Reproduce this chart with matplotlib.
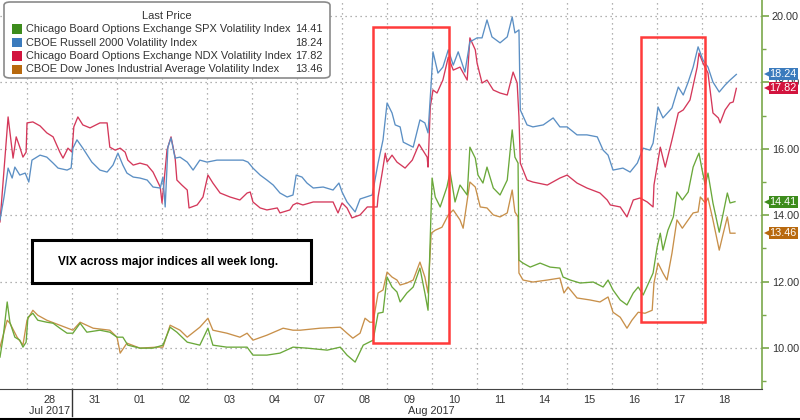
import matplotlib
matplotlib.use("Agg")
import matplotlib.pyplot as plt
import matplotlib.transforms as mtransforms
from matplotlib.patches import FancyBboxPatch, Rectangle
from matplotlib.ticker import MultipleLocator, FixedLocator, NullFormatter, FixedFormatter

plt.rcParams['font.family'] = ['Liberation Sans', 'DejaVu Sans']

# x = trading-day position (0 = start of Jul 28 session), y = index level
spx_t = [-0.60, -0.53, -0.44, -0.38, -0.27, -0.16, -0.09, -0.02, 0.02, 0.13, 0.24, 0.44, 0.58, 0.73, 0.89,
         1.02, 1.18, 1.33, 1.62, 1.84, 2.00, 2.13, 2.24, 2.51, 2.80, 3.02, 3.18, 3.33, 3.56, 3.84,
         4.02, 4.13, 4.44, 4.89, 5.02, 5.33, 5.62, 5.91, 6.22, 6.67, 6.96, 7.11, 7.29, 7.47, 7.69,
         7.80, 7.91, 8.00, 8.11, 8.22, 8.29, 8.44, 8.58, 8.73, 8.84, 8.91, 9.00, 9.07, 9.18, 9.33,
         9.40, 9.51, 9.62, 9.78, 9.84, 9.96, 10.02, 10.13, 10.22, 10.36, 10.51, 10.67, 10.78, 10.84, 10.91,
         10.93, 11.02, 11.18, 11.40, 11.62, 11.84, 11.91, 12.07, 12.29, 12.58, 12.80, 12.91, 13.02, 13.18, 13.33,
         13.47, 13.58, 13.69, 13.84, 13.91, 14.00, 14.07, 14.13, 14.24, 14.36, 14.44, 14.56, 14.69, 14.80, 14.89,
         14.93, 15.00, 15.07, 15.13, 15.24, 15.38, 15.47, 15.56, 15.62, 15.73]
spx_v = [9.73, 10.33, 11.39, 10.78, 10.33, 10.24, 10.03, 10.18, 10.93, 11.05, 10.84, 10.78, 10.75, 10.60, 10.45,
         10.45, 10.75, 10.48, 10.54, 10.48, 10.33, 10.33, 10.09, 10.00, 10.00, 10.09, 10.63, 10.48, 10.18, 10.09,
         10.60, 10.09, 10.03, 10.03, 9.79, 9.79, 9.85, 10.03, 10.00, 9.94, 10.03, 9.79, 9.58, 10.09, 10.24,
         11.05, 11.08, 12.14, 11.84, 11.69, 11.39, 11.66, 11.84, 12.41, 11.66, 11.14, 15.12, 14.55, 14.25, 14.85,
         15.30, 14.40, 14.91, 14.61, 16.05, 15.72, 15.21, 14.97, 15.45, 14.82, 14.61, 15.06, 16.57, 15.75, 15.57,
         12.65, 12.56, 12.44, 12.56, 12.44, 12.41, 12.14, 12.05, 11.96, 11.99, 11.84, 12.05, 11.75, 11.45, 11.30,
         11.66, 11.84, 11.60, 12.05, 12.26, 13.04, 13.46, 12.95, 13.55, 13.95, 14.70, 14.46, 14.70, 15.45, 15.75,
         15.87, 15.36, 14.91, 15.27, 14.37, 13.49, 14.07, 14.67, 14.37, 14.41]

rut_t = [-0.60, -0.51, -0.42, -0.33, -0.27, -0.16, -0.04, 0.04, 0.11, 0.29, 0.44, 0.58, 0.69, 0.89, 0.98,
         1.02, 1.11, 1.24, 1.44, 1.62, 1.78, 1.91, 2.02, 2.13, 2.22, 2.36, 2.51, 2.67, 2.80, 2.96,
         3.02, 3.07, 3.13, 3.20, 3.29, 3.40, 3.56, 3.69, 3.84, 4.00, 4.22, 4.58, 4.80, 4.91, 5.02,
         5.18, 5.33, 5.47, 5.62, 5.78, 5.91, 5.98, 6.11, 6.22, 6.36, 6.58, 6.80, 6.93, 7.00, 7.11,
         7.29, 7.40, 7.67, 7.80, 7.91, 8.00, 8.11, 8.18, 8.29, 8.36, 8.58, 8.73, 8.84, 8.91, 8.98,
         9.02, 9.13, 9.24, 9.36, 9.47, 9.58, 9.73, 9.84, 10.00, 10.11, 10.22, 10.33, 10.51, 10.67, 10.78,
         10.84, 10.93, 10.96, 11.11, 11.24, 11.47, 11.69, 11.84, 12.00, 12.22, 12.44, 12.67, 12.80, 12.91, 13.02,
         13.24, 13.40, 13.56, 13.69, 13.84, 13.91, 14.02, 14.13, 14.33, 14.47, 14.58, 14.69, 14.80, 14.91, 15.02,
         15.13, 15.24, 15.38, 15.51, 15.62, 15.76]
rut_v = [13.86, 14.55, 15.42, 15.12, 15.45, 15.21, 15.27, 15.00, 15.66, 15.81, 15.75, 15.57, 15.42, 15.36, 15.42,
         16.02, 16.27, 16.02, 15.60, 15.36, 15.30, 15.51, 15.87, 15.51, 15.27, 15.15, 15.12, 15.06, 14.85, 14.82,
         15.15, 14.25, 16.05, 16.33, 15.72, 15.75, 15.60, 15.36, 15.66, 15.60, 15.66, 15.66, 15.66, 15.60, 15.42,
         15.21, 15.06, 14.91, 14.67, 14.55, 14.61, 15.21, 15.15, 14.97, 14.82, 14.85, 14.76, 14.97, 14.70, 14.40,
         14.10, 14.49, 14.61, 15.57, 16.27, 17.38, 17.08, 16.72, 16.66, 16.20, 16.05, 16.87, 16.78, 16.48, 17.98,
         18.92, 18.28, 18.46, 18.98, 18.52, 18.92, 18.31, 19.22, 19.34, 19.34, 19.88, 19.37, 19.19, 19.37, 19.97,
         19.49, 19.58, 17.17, 16.72, 16.66, 16.72, 16.93, 16.66, 16.66, 16.42, 16.42, 16.36, 15.96, 15.81, 15.36,
         15.42, 15.30, 15.57, 16.02, 15.96, 16.17, 17.26, 16.93, 17.23, 17.86, 17.62, 18.01, 18.46, 19.07, 18.67,
         18.46, 18.01, 17.71, 17.92, 18.07, 18.24]

ndx_t = [-0.60, -0.42, -0.31, -0.24, -0.16, -0.09, -0.02, 0.00, 0.13, 0.29, 0.44, 0.58, 0.73, 0.80, 0.91,
         1.00, 1.04, 1.13, 1.24, 1.40, 1.62, 1.78, 1.84, 1.96, 2.07, 2.18, 2.24, 2.36, 2.51, 2.67,
         2.80, 2.96, 3.00, 3.11, 3.20, 3.29, 3.33, 3.44, 3.56, 3.60, 3.78, 3.91, 4.02, 4.13, 4.29,
         4.51, 4.73, 4.89, 4.96, 5.02, 5.18, 5.33, 5.56, 5.62, 5.84, 5.91, 6.00, 6.13, 6.36, 6.80,
         6.91, 7.00, 7.11, 7.22, 7.40, 7.56, 7.78, 7.80, 7.89, 7.96, 8.00, 8.11, 8.22, 8.40, 8.56,
         8.71, 8.89, 8.91, 8.96, 9.02, 9.11, 9.24, 9.36, 9.47, 9.62, 9.78, 9.84, 9.96, 10.00, 10.11,
         10.22, 10.36, 10.51, 10.67, 10.80, 10.89, 10.93, 10.96, 11.11, 11.24, 11.56, 11.84, 12.00, 12.22, 12.44,
         12.73, 12.89, 12.96, 13.18, 13.33, 13.47, 13.62, 13.78, 13.91, 13.93, 14.07, 14.18, 14.33, 14.47, 14.58,
         14.73, 14.89, 14.93, 15.02, 15.13, 15.24, 15.36, 15.40, 15.51, 15.62, 15.69, 15.76]
ndx_v = [13.80, 16.96, 15.72, 16.36, 16.05, 15.75, 15.90, 16.78, 16.81, 16.69, 16.48, 16.36, 15.90, 15.72, 16.02,
         15.90, 16.66, 16.96, 16.72, 16.63, 16.78, 16.78, 16.05, 15.96, 16.02, 15.90, 15.66, 15.51, 15.57, 15.51,
         15.30, 14.85, 14.37, 15.96, 16.36, 15.75, 15.06, 14.91, 14.76, 14.22, 14.31, 14.55, 15.21, 14.97, 14.67,
         14.55, 14.46, 14.67, 14.70, 14.40, 14.22, 14.16, 14.22, 14.07, 14.16, 14.31, 14.37, 14.31, 14.40, 14.40,
         14.07, 14.37, 14.22, 13.92, 14.01, 14.25, 14.25, 14.55, 15.27, 15.87, 15.60, 15.81, 15.60, 15.42, 15.66,
         16.14, 15.75, 15.45, 17.26, 17.77, 17.68, 18.07, 18.76, 18.37, 18.46, 18.07, 19.34, 18.98, 18.58, 17.98,
         18.07, 17.77, 17.68, 17.62, 18.31, 17.98, 16.96, 15.57, 15.06, 15.00, 14.91, 15.12, 15.21, 14.97, 14.82,
         14.67, 14.46, 14.31, 14.25, 13.95, 14.46, 14.52, 14.40, 14.25, 14.91, 16.05, 15.45, 16.27, 17.08, 17.17,
         17.47, 18.46, 18.88, 18.58, 18.28, 17.08, 16.93, 16.78, 17.17, 17.38, 17.41, 17.82]

dji_t = [-0.60, -0.44, -0.38, -0.22, -0.09, 0.00, 0.13, 0.24, 0.44, 0.73, 1.02, 1.18, 1.47, 1.84, 2.00,
         2.07, 2.22, 2.51, 2.89, 3.02, 3.18, 3.40, 3.56, 3.84, 4.02, 4.13, 4.44, 4.73, 4.89, 5.02,
         5.33, 5.69, 5.91, 6.07, 6.51, 6.96, 7.11, 7.24, 7.40, 7.51, 7.62, 7.69, 7.80, 7.91, 8.00,
         8.11, 8.22, 8.29, 8.44, 8.58, 8.73, 8.84, 8.91, 8.98, 9.07, 9.22, 9.36, 9.47, 9.62, 9.69,
         9.84, 9.96, 10.07, 10.22, 10.36, 10.51, 10.67, 10.78, 10.84, 10.91, 10.93, 11.02, 11.24, 11.56, 11.84,
         11.93, 12.02, 12.22, 12.51, 12.73, 12.91, 13.02, 13.18, 13.33, 13.44, 13.58, 13.73, 13.89, 13.93, 14.02,
         14.13, 14.22, 14.33, 14.44, 14.56, 14.69, 14.80, 14.91, 14.96, 15.07, 15.13, 15.24, 15.38, 15.47, 15.56,
         15.62, 15.73]
dji_v = [10.03, 10.84, 10.75, 10.33, 10.09, 10.84, 11.14, 10.99, 10.84, 10.69, 10.54, 10.78, 10.60, 10.54, 10.33,
         9.85, 10.15, 10.00, 10.03, 10.03, 10.69, 10.54, 10.33, 10.63, 10.90, 10.54, 10.45, 10.33, 10.45, 10.24,
         10.39, 10.60, 10.54, 10.54, 10.60, 10.63, 10.45, 10.30, 10.45, 10.90, 10.78, 10.78, 11.66, 11.75, 12.29,
         12.14, 12.05, 11.90, 11.96, 12.05, 12.59, 12.14, 11.66, 13.46, 13.55, 13.64, 14.01, 14.16, 13.86, 13.61,
         15.00, 14.85, 14.25, 14.22, 14.01, 13.95, 14.07, 14.76, 14.10, 13.95, 12.26, 12.05, 11.99, 12.05, 12.11,
         11.66, 11.84, 11.51, 11.45, 11.39, 11.54, 11.08, 10.93, 10.60, 10.84, 11.08, 11.05, 11.14, 11.96, 12.56,
         12.26, 12.05, 12.86, 13.86, 13.61, 13.86, 14.07, 14.10, 14.55, 14.37, 14.52, 13.86, 12.95, 13.46, 13.95,
         13.46, 13.46]

day_labels = ["28", "31", "01", "02", "03", "04", "07", "08", "09", "10", "11", "14", "15", "16", "17", "18"]
month_labels = ["Jul 2017", "Aug 2017"]
series_names = ["Chicago Board Options Exchange SPX Volatility Index",
                "CBOE Russell 2000 Volatility Index",
                "Chicago Board Options Exchange NDX Volatility Index",
                "CBOE Dow Jones Industrial Average Volatility Index"]
last_values = [14.41, 18.24, 17.82, 13.46]

line_colors = ["#6aa83a", "#5b8fc4", "#d4385a", "#c8904a"]
tag_colors = ["#3d8c1c", "#3b7bbd", "#d2143e", "#b8690e"]
txt = "#333333"

W, H = 800, 420
fig = plt.figure(figsize=(8, 4.2), dpi=100)
ax = fig.add_axes([0, 1 - 389 / H, 762 / W, 389 / H])


def fx(x, y):
    return x / W, 1 - y / H


ax.plot(dji_t, dji_v, color=line_colors[3], lw=0.95)
ax.plot(spx_t, spx_v, color=line_colors[0], lw=0.95)
ax.plot(ndx_t, ndx_v, color=line_colors[2], lw=0.95)
ax.plot(rut_t, rut_v, color=line_colors[1], lw=0.95)

ax.set_xlim(-0.6, 16.33)
ax.set_ylim(8.77, 20.48)

for s in ["left", "top"]:
    ax.spines[s].set_visible(False)
ax.spines["bottom"].set_color("#444444")
ax.spines["right"].set_color("#7aa84a")
ax.spines["right"].set_linewidth(1.2)

ax.yaxis.tick_right()
ax.yaxis.set_major_locator(MultipleLocator(2))
ax.yaxis.set_minor_locator(MultipleLocator(1))
ax.yaxis.set_major_formatter(matplotlib.ticker.FormatStrFormatter("%.2f"))
ax.tick_params(axis="y", which="major", length=5, width=1.2, color="#7aa84a",
               labelsize=7.8, labelcolor=txt, pad=2)
ax.tick_params(axis="y", which="minor", length=3, width=1, color="#7aa84a")

ax.xaxis.set_major_locator(FixedLocator(range(0, 16)))
ax.xaxis.set_major_formatter(NullFormatter())
ax.xaxis.set_minor_locator(FixedLocator([i + 0.5 for i in range(16)]))
ax.xaxis.set_minor_formatter(FixedFormatter(day_labels))
ax.tick_params(axis="x", which="both", length=0, labelsize=7.8, labelcolor=txt, pad=4)

ax.grid(axis="y", which="major", color="#999999", ls=(0, (1, 3)), lw=0.9)
ax.grid(axis="x", which="major", color="#999999", ls=(0, (1, 3)), lw=0.9)

# month labels and separator
trans = mtransforms.blended_transform_factory(ax.transData, ax.transAxes)
ax.text(0.5, -0.056, month_labels[0], transform=trans, ha="center", va="center",
        fontsize=7.8, color=txt)
ax.text(8.98, -0.056, month_labels[1], transform=trans, ha="center", va="center",
        fontsize=7.8, color=txt)
ax.plot([1, 1], [0, -0.07], transform=trans, color="#333333", lw=1.0, clip_on=False)

# red highlight boxes
ax.add_patch(Rectangle((7.69, 10.15), 9.38 - 7.69, 19.67 - 10.15, fill=False,
                       ec="#ff3b3b", lw=1.8, zorder=5))
ax.add_patch(Rectangle((13.64, 10.78), 15.07 - 13.64, 19.37 - 10.78, fill=False,
                       ec="#ff3b3b", lw=1.8, zorder=5))

# last value tags on the right
ytrans = mtransforms.blended_transform_factory(ax.transAxes, ax.transData)
for v, c in zip(last_values, tag_colors):
    ax.annotate(f"{v:.2f}", xy=(1.0, v), xycoords=ytrans,
                xytext=(5.5, 0), textcoords="offset points", ha="left", va="center",
                fontsize=7.8, color="white", annotation_clip=False,
                bbox=dict(boxstyle="square,pad=0.1", fc=c, ec="none"))
    ax.plot([1.0 + 6 / 762], [v], marker="<", ms=6, mew=0, color=c,
            transform=ytrans, clip_on=False)

# legend panel
x0, y0 = fx(4, 78)
x1, y1 = fx(330, 2)
fig.patches.append(FancyBboxPatch((x0, y0), x1 - x0, y1 - y0, transform=fig.transFigure,
                                  boxstyle="round,pad=0,rounding_size=0.008",
                                  fc="white", ec="#8a8a8a", lw=1.2, zorder=10))
fig.text(*fx(167, 16), "Last Price", ha="center", va="center", fontsize=8,
         color=txt, zorder=11)
for i in range(4):
    yy = 29 + i * 13.5
    sx, sy = fx(12, yy + 4.5)
    fig.patches.append(Rectangle((sx, sy), 10 / W, 9 / H, transform=fig.transFigure,
                                 fc=tag_colors[i], ec="none", zorder=11))
    fig.text(*fx(26, yy), series_names[i], ha="left", va="center", fontsize=7.9,
             color=txt, zorder=11)
    fig.text(*fx(323, yy), f"{last_values[i]:.2f}", ha="right", va="center",
             fontsize=7.9, color=txt, zorder=11)

# comment box
bx0, by0 = fx(32, 283)
bx1, by1 = fx(311, 240)
fig.patches.append(Rectangle((bx0, by0), bx1 - bx0, by1 - by0, transform=fig.transFigure,
                             fc="white", ec="black", lw=2.2, zorder=10))
fig.text(*fx(168, 262), "VIX across major indices all week long.", ha="center",
         va="center", fontsize=8.5, fontweight="bold", color="black", zorder=11)

# bottom frame line of the screenshot
fig.lines.append(plt.Line2D([0, 1], [1.5 / H, 1.5 / H], transform=fig.transFigure,
                            color="black", lw=1.5))

fig.savefig("out.png", dpi=100)
